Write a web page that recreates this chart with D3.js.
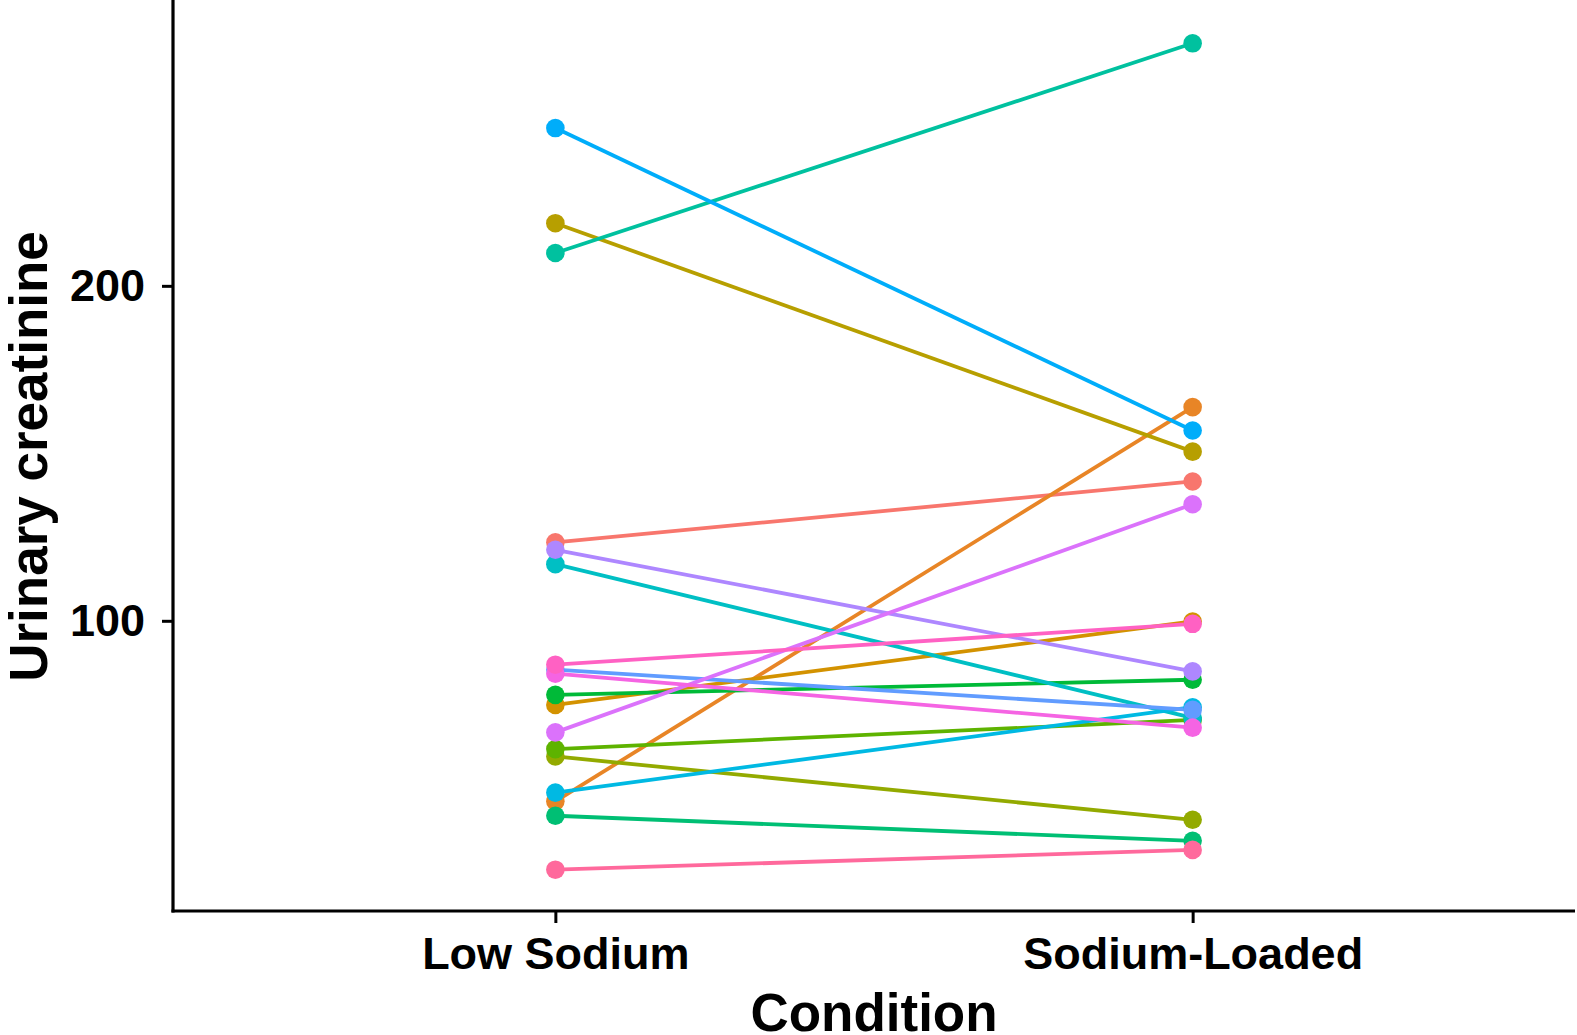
<!DOCTYPE html>
<html>
<head>
<meta charset="utf-8">
<script src="https://cdn.jsdelivr.net/npm/d3@7"></script>
<style>
  body { margin: 0; background: #fff; }
  svg text { font-family: "Liberation Sans", Arial, sans-serif; font-weight: bold; fill: #000; }
</style>
</head>
<body>
<script>
// condition levels on the x axis
const conditions = ['Low Sodium', 'Sodium-Loaded'];

// one entry per subject, in factor order (sets the hue)
const subjects = ['1', '2', '3', '4', '5', '6', '7', '8', '9',
    '10', '11', '12', '13', '14', '15', '16', '17', '18'];

const lowSodium = [123.4, 46.1, 74.9, 218.7, 59.5, 61.7, 77.9, 41.8, 209.8,
    116.9, 48.7, 247.1, 85.4, 121.2, 66.7, 84.2, 86.9, 25.7];
const sodiumLoaded = [141.6, 163.8, 99.8, 150.5, 40.6, 70.4, 82.4, 34.3, 272.4,
    71.0, 74.2, 156.8, 73.4, 84.9, 134.8, 68.1, 99.1, 31.6];

const yTicks = [100, 200];

let width = 1577,
    height = 1035;

const margin = {top: 2, right: 2, bottom: 124, left: 173};

// R style hcl (polar Luv) -> hex, same as ggplot's hue palette
function hcl2hex(h, c, l) {
    const Xn = 95.047, Yn = 100, Zn = 108.883;
    const rad = h * Math.PI / 180;
    const u = c * Math.cos(rad), v = c * Math.sin(rad);
    const Y = l > 8 ? Yn * Math.pow((l + 16) / 116, 3) : Yn * l / 903.3;
    const den = Xn + 15 * Yn + 3 * Zn;
    const un = 4 * Xn / den, vn = 9 * Yn / den;
    const up = u / (13 * l) + un, vp = v / (13 * l) + vn;
    const X = 9 * Y * up / (4 * vp);
    const Z = Y * (12 - 3 * up - 20 * vp) / (4 * vp);
    const x = X / 100, y = Y / 100, z = Z / 100;
    const lin = [
        3.240479 * x - 1.537150 * y - 0.498535 * z,
        -0.969256 * x + 1.875992 * y + 0.041556 * z,
        0.055648 * x - 0.204043 * y + 1.057311 * z
    ];
    const ch = lin.map(function (t) {
        t = t <= 0.0031308 ? 12.92 * t : 1.055 * Math.pow(t, 1 / 2.4) - 0.055;
        return Math.round(Math.max(0, Math.min(1, t)) * 255);
    });
    return d3.rgb(ch[0], ch[1], ch[2]).formatHex();
}

const n = subjects.length;
const hues = subjects.map((d, i) => 15 + i * 360 / n);
const color = d3.scaleOrdinal()
    .domain(subjects)
    .range(hues.map(h => hcl2hex(h, 100, 65)));

const rows = subjects.map((s, i) => ({
    subject: s,
    values: [
        {cond: conditions[0], v: lowSodium[i]},
        {cond: conditions[1], v: sodiumLoaded[i]}
    ]
}));

const allValues = lowSodium.concat(sodiumLoaded);
const ext = d3.extent(allValues);
const pad = (ext[1] - ext[0]) * 0.05;

const y = d3.scaleLinear()
    .domain([ext[0] - pad, ext[1] + pad])
    .range([height - margin.bottom, margin.top]);

// discrete axis with ggplot's 0.6 unit expansion
const xIdx = d3.scaleLinear()
    .domain([0.4, conditions.length + 0.6])
    .range([margin.left, width - margin.right]);
const x = function (c) { return xIdx(conditions.indexOf(c) + 1); };

const svg = d3.select('body').append('svg')
    .attr('width', width)
    .attr('height', height);

const line = d3.line()
    .x(d => x(d.cond))
    .y(d => y(d.v));

svg.append('g')
    .attr('class', 'lines')
    .selectAll('path')
    .data(rows)
    .enter().append('path')
    .attr('d', d => line(d.values))
    .attr('fill', 'none')
    .attr('stroke', d => color(d.subject))
    .attr('stroke-width', 3.8);

svg.append('g')
    .attr('class', 'points')
    .selectAll('g')
    .data(rows)
    .enter().append('g')
    .selectAll('circle')
    .data(d => d.values.map(p => ({subject: d.subject, cond: p.cond, v: p.v})))
    .enter().append('circle')
    .attr('cx', d => x(d.cond))
    .attr('cy', d => y(d.v))
    .attr('r', 9.3)
    .attr('fill', d => color(d.subject));

// axes
const xAxisScale = d3.scalePoint()
    .domain(conditions)
    .range([x(conditions[0]), x(conditions[1])]);

const gx = svg.append('g')
    .attr('transform', 'translate(0,' + (height - margin.bottom) + ')')
    .call(d3.axisBottom(xAxisScale).tickSize(12).tickPadding(14).tickSizeOuter(0));
gx.select('.domain').remove();
gx.append('line')
    .attr('x1', margin.left - 1.5).attr('x2', width - margin.right)
    .attr('stroke', '#000').attr('stroke-width', 3.2);
gx.selectAll('.tick line').attr('stroke', '#000').attr('stroke-width', 3);
gx.selectAll('.tick text').attr('font-size', 45);

const gy = svg.append('g')
    .attr('transform', 'translate(' + margin.left + ',0)')
    .call(d3.axisLeft(y).tickValues(yTicks).tickSize(11).tickPadding(17).tickSizeOuter(0));
gy.select('.domain').remove();
gy.append('line')
    .attr('y1', 0).attr('y2', height - margin.bottom + 1.5)
    .attr('stroke', '#000').attr('stroke-width', 3.2);
gy.selectAll('.tick line').attr('stroke', '#000').attr('stroke-width', 3);
gy.selectAll('.tick text').attr('font-size', 45);

svg.append('text')
    .attr('x', (margin.left + width - margin.right) / 2)
    .attr('y', 1031)
    .attr('text-anchor', 'middle')
    .attr('font-size', 53)
    .text('Condition');

svg.append('text')
    .attr('transform', 'translate(47,' + (margin.top + height - margin.bottom) / 2 + ') rotate(-90)')
    .attr('text-anchor', 'middle')
    .attr('font-size', 53)
    .text('Urinary creatinine');
</script>
</body>
</html>
